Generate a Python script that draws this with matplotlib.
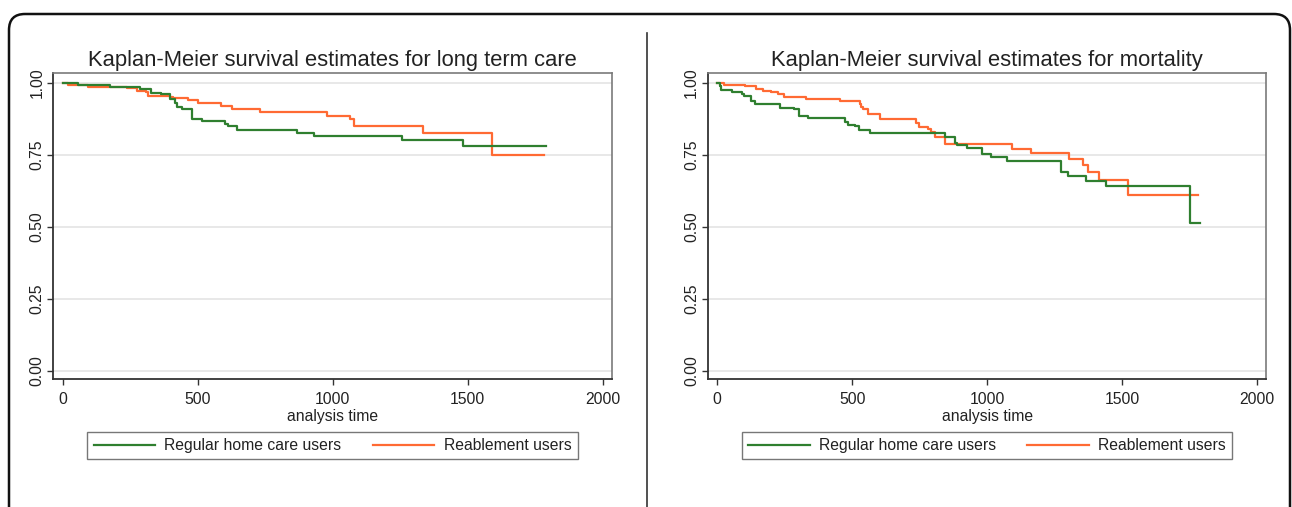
import matplotlib
matplotlib.use('Agg')
import matplotlib.pyplot as plt
from matplotlib.patches import FancyBboxPatch
from matplotlib.lines import Line2D
from matplotlib.transforms import IdentityTransform

plt.rcParams['font.family'] = ['Liberation Sans', 'DejaVu Sans']

# --- data (time in days, survival proportion) ---
ltc_regular_t = [0, 58, 175, 286, 327, 364, 397, 416, 422, 443, 478, 517, 601, 611, 644, 866, 931, 1258, 1484, 1790]
ltc_regular_s = [1.0, 0.994, 0.985, 0.977, 0.966, 0.960, 0.944, 0.931, 0.917, 0.908, 0.875, 0.867, 0.858, 0.850,
                 0.835, 0.824, 0.815, 0.801, 0.780, 0.780]
ltc_reable_t = [0, 21, 95, 237, 274, 307, 315, 397, 410, 463, 500, 585, 626, 731, 980, 1064, 1079, 1336, 1589, 1783]
ltc_reable_s = [1.0, 0.994, 0.987, 0.983, 0.973, 0.969, 0.955, 0.950, 0.946, 0.939, 0.931, 0.921, 0.910, 0.899,
                0.885, 0.875, 0.850, 0.827, 0.750, 0.750]

mort_regular_t = [0, 10, 14, 55, 90, 100, 126, 138, 231, 284, 301, 336, 472, 484, 509, 524, 564, 842, 880, 889,
                  924, 982, 1013, 1074, 1272, 1300, 1366, 1440, 1751, 1788]
mort_regular_s = [1.0, 0.990, 0.975, 0.968, 0.962, 0.954, 0.936, 0.925, 0.913, 0.908, 0.884, 0.876, 0.863, 0.855,
                  0.850, 0.836, 0.824, 0.813, 0.792, 0.784, 0.772, 0.753, 0.743, 0.729, 0.691, 0.676, 0.660, 0.643,
                  0.514, 0.514]
mort_reable_t = [0, 25, 101, 145, 169, 200, 225, 247, 330, 453, 527, 534, 541, 558, 601, 737, 746, 780, 790, 805,
                 845, 1090, 1161, 1304, 1356, 1374, 1415, 1522, 1782]
mort_reable_s = [1.0, 0.994, 0.988, 0.980, 0.973, 0.968, 0.960, 0.950, 0.942, 0.936, 0.928, 0.917, 0.908, 0.890,
                 0.873, 0.861, 0.847, 0.838, 0.829, 0.812, 0.787, 0.770, 0.755, 0.735, 0.714, 0.689, 0.662, 0.610,
                 0.610]

titles = ['Kaplan-Meier survival estimates for long term care',
          'Kaplan-Meier survival estimates for mortality']
group_labels = ['Regular home care users', 'Reablement users']
x_ticks = [0, 500, 1000, 1500, 2000]
y_ticks = [0.0, 0.25, 0.5, 0.75, 1.0]

GREEN = '#2f7f2f'
ORANGE = '#ff6a33'
TXT = '#222222'
FS = 11.3

W, H = 1292, 507
fig = plt.figure(figsize=(W / 100, H / 100), dpi=100)

panels = [
    (53.3, titles[0], (ltc_regular_t, ltc_regular_s), (ltc_reable_t, ltc_reable_s)),
    (707.9, titles[1], (mort_regular_t, mort_regular_s), (mort_reable_t, mort_reable_s)),
]

for left_px, title, green, orange in panels:
    ax = fig.add_axes([left_px / W, 1 - 379.3 / H, 558.4 / W, 306.6 / H])
    for y in y_ticks:
        ax.axhline(y, color='#e8e8e8', lw=1.4, zorder=0)
    ax.step(green[0], green[1], where='post', color=GREEN, lw=1.6, zorder=3)
    ax.step(orange[0], orange[1], where='post', color=ORANGE, lw=1.6, zorder=2)
    ax.set_xlim(-34.8, 2033.3)
    ax.set_ylim(-0.030, 1.035)
    ax.set_xticks(x_ticks)
    ax.set_yticks(y_ticks)
    ax.set_yticklabels(['%.2f' % v for v in y_ticks], rotation=90, va='center')
    ax.tick_params(axis='both', labelsize=FS, colors='#333333', labelcolor=TXT, length=4.5, width=1.0)
    ax.tick_params(axis='x', pad=5)
    ax.tick_params(axis='y', pad=1.8)
    for side in ['left', 'bottom']:
        ax.spines[side].set_color('#333333')
        ax.spines[side].set_linewidth(1.3)
    for side in ['top', 'right']:
        ax.spines[side].set_color('#7a7a7a')
        ax.spines[side].set_linewidth(1.2)
    ax.set_xlabel('analysis time', fontsize=FS, color=TXT, labelpad=1)
    ax.set_title(title, fontsize=15.8, color=TXT, pad=4.5)

    handles = [Line2D([], [], color=GREEN, lw=1.6), Line2D([], [], color=ORANGE, lw=1.6)]
    cx = (left_px + 558.4 / 2) / W
    leg = fig.legend(handles, group_labels, loc='center', bbox_to_anchor=(cx, 1 - 445.5 / H),
                     ncol=2, fontsize=FS, frameon=True, fancybox=False, handlelength=3.9,
                     handletextpad=0.6, columnspacing=2.0, borderpad=0.4, labelcolor=TXT)
    leg.get_frame().set_edgecolor('#555555')
    leg.get_frame().set_linewidth(1.0)

# outer rounded frame and divider, in pixel coordinates
frame = FancyBboxPatch((9, -40), 1281, 493 + 40, boxstyle='round,pad=0,rounding_size=16',
                       transform=IdentityTransform(), fill=False, edgecolor='#111111', lw=1.8)
fig.patches.append(frame)
fig.lines.append(Line2D([647, 647], [0, 474], transform=IdentityTransform(), color='#333333', lw=1.2))

fig.savefig('out.png', dpi=100)
